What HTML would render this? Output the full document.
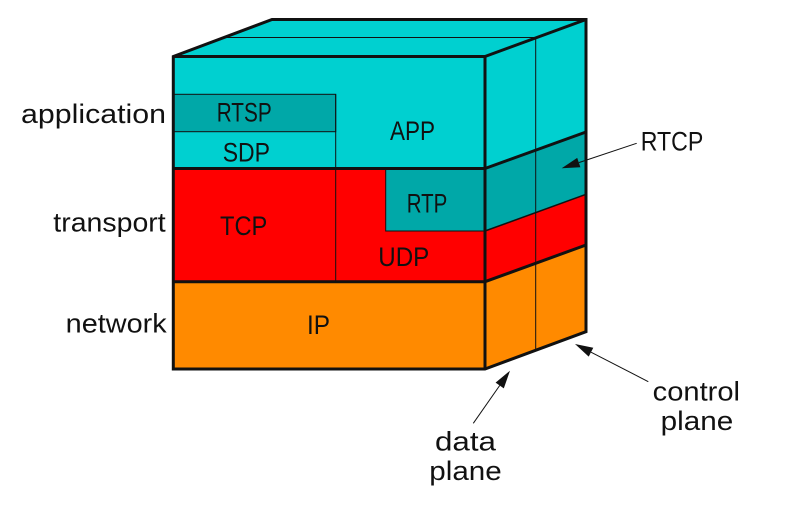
<!DOCTYPE html>
<html><head><meta charset="utf-8"><style>
html,body{margin:0;padding:0;background:#fff;}
svg{display:block;}
text{font-family:"Liberation Sans","DejaVu Sans",sans-serif;font-size:27px;fill:#111;}
</style></head><body>
<svg width="787" height="519" viewBox="0 0 787 519" xmlns="http://www.w3.org/2000/svg">
<rect width="787" height="519" fill="#fff"/>
<!-- top face -->
<polygon points="173.3,56.5 272,19.5 586,19.5 485,56.5" fill="#00D0D0"/>
<line x1="223.5" y1="37.5" x2="535.7" y2="37.5" stroke="#111" stroke-width="1"/>
<!-- front face -->
<rect x="173.3" y="56.5" width="311.7" height="112" fill="#00D0D0"/>
<rect x="173.3" y="94.3" width="162.4" height="37.4" fill="#00A8A8" stroke="#111" stroke-width="1"/>
<rect x="173.3" y="168.5" width="311.7" height="113.2" fill="#FF0000"/>
<rect x="385.7" y="168.5" width="99.3" height="62.5" fill="#00A8A8" stroke="#111" stroke-width="1"/>
<rect x="173.3" y="281.7" width="311.7" height="87.3" fill="#FF8A00"/>
<line x1="335.7" y1="94.3" x2="335.7" y2="281.7" stroke="#111" stroke-width="1"/>
<!-- right face -->
<polygon points="485,56.5 586,19.5 586,132 485,168.5" fill="#00D0D0"/>
<polygon points="485,168.5 586,132 586,194.3 485,231" fill="#00A8A8"/>
<polygon points="485,231 586,194.3 586,245 485,281.7" fill="#FF0000"/>
<polygon points="485,281.7 586,245 586,331.7 485,369" fill="#FF8A00"/>
<line x1="535.7" y1="37.5" x2="535.7" y2="350.4" stroke="#111" stroke-width="1"/>
<line x1="485" y1="231" x2="586" y2="194.3" stroke="#111" stroke-width="1.5"/>
<!-- thick lines -->
<g stroke="#111" stroke-width="3" fill="none" stroke-linejoin="miter">
<polygon points="173.3,56.5 272,19.5 586,19.5 586,331.7 485,369 173.3,369"/>
<line x1="485" y1="56.5" x2="586" y2="19.5"/>
<line x1="173.3" y1="56.5" x2="485" y2="56.5"/>
<line x1="485" y1="56.5" x2="485" y2="369"/>
<line x1="173.3" y1="168.5" x2="485" y2="168.5"/>
<line x1="173.3" y1="281.7" x2="485" y2="281.7"/>
<line x1="485" y1="168.5" x2="586" y2="132"/>
<line x1="485" y1="281.7" x2="586" y2="245"/>
</g>
<!-- arrows -->
<g stroke="#111" stroke-width="1">
<line x1="636.7" y1="143.3" x2="578.8" y2="162.6"/>
<line x1="473.3" y1="423.3" x2="499.7" y2="385.5"/>
<line x1="648.3" y1="381.7" x2="591" y2="352.2"/>
</g>
<g fill="#111">
<polygon points="561.7,168.3 580.4,167.3 577.2,157.9"/>
<polygon points="510,370.7 503.8,388.4 495.6,382.6"/>
<polygon points="575,344 593.3,347.8 588.7,356.6"/>
</g>
<!-- labels -->
<text x="21" y="123" textLength="145" lengthAdjust="spacingAndGlyphs">application</text>
<text x="53.3" y="231.7" textLength="112.4" lengthAdjust="spacingAndGlyphs">transport</text>
<text x="65.7" y="332.3" textLength="101" lengthAdjust="spacingAndGlyphs">network</text>
<text x="216.7" y="121.7" textLength="55" lengthAdjust="spacingAndGlyphs">RTSP</text>
<text x="222.7" y="161.7" textLength="47.3" lengthAdjust="spacingAndGlyphs">SDP</text>
<text x="390" y="140" textLength="45" lengthAdjust="spacingAndGlyphs">APP</text>
<text x="220" y="235" textLength="47.3" lengthAdjust="spacingAndGlyphs">TCP</text>
<text x="406.7" y="212.7" textLength="40.6" lengthAdjust="spacingAndGlyphs">RTP</text>
<text x="378.3" y="266" textLength="51" lengthAdjust="spacingAndGlyphs">UDP</text>
<text x="307" y="334" textLength="23" lengthAdjust="spacingAndGlyphs">IP</text>
<text x="640.7" y="150.7" textLength="62.6" lengthAdjust="spacingAndGlyphs">RTCP</text>
<text x="652.7" y="400.7" textLength="87.3" lengthAdjust="spacingAndGlyphs">control</text>
<text x="660.7" y="430" textLength="72.6" lengthAdjust="spacingAndGlyphs">plane</text>
<text x="435" y="450.7" textLength="61" lengthAdjust="spacingAndGlyphs">data</text>
<text x="429.3" y="480" textLength="72.4" lengthAdjust="spacingAndGlyphs">plane</text>
</svg>
</body></html>
